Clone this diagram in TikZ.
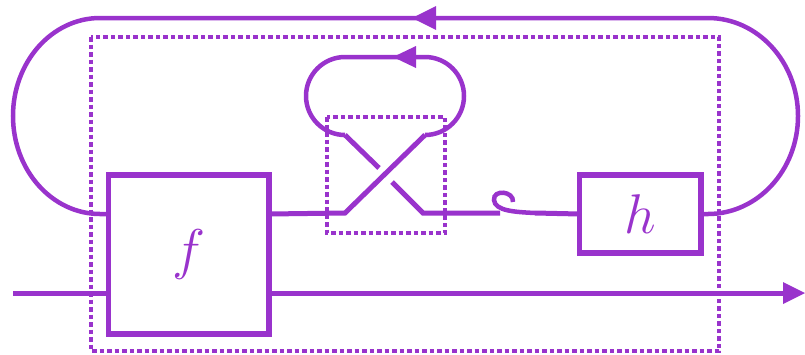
\documentclass[tikz,border=0pt]{standalone}
\usepackage{fix-cm}
\definecolor{pur}{HTML}{9933CC}
\begin{document}
\begin{tikzpicture}[x=1pt,y=-1pt,
  wire/.style={draw=pur,line width=5pt},
  loopw/.style={draw=pur,line width=4.5pt},
  boxn/.style={draw=pur,line width=5.5pt,rectangle,inner sep=0pt,outer sep=0pt,text=pur,font=\fontsize{56}{56}\selectfont},
  dotbox/.style={draw=pur,line width=4.5pt,dash pattern=on 4.5pt off 3pt},
  tip/.style={fill=pur}]
\useasboundingbox (0,0) rectangle (805,354);
% dotted boxes
\draw[dotbox] (91,37) rectangle (719,351);
\draw[dotbox] (327,117) rectangle (445,233);
% boxes
\node[boxn,minimum width=160.5pt,minimum height=159pt] (f) at (188.75,254.5) {$f$};
\node[boxn,minimum width=121.5pt,minimum height=78pt] (h) at (640.25,214) {$h$};
% coordinates
\coordinate (fin) at (f.west |- 0,293);
\coordinate (fout) at (f.east |- 0,293);
\coordinate (ftop) at (f.west |- 0,214);
\coordinate (fr) at (f.east |- 0,214);
\coordinate (hr) at (h.east |- 0,214);
\coordinate (in) at (13,293);
\coordinate (outtip) at (805,293);
\coordinate (L1) at (100,214);
\coordinate (R1) at (708,18);
\coordinate (cA) at (345,213);
\coordinate (cB) at (425,135);
\coordinate (cC) at (345,135);
\coordinate (cD) at (423,213);
\coordinate (cur0) at (500,213);
\coordinate (cur1) at (513,202);
\coordinate (cur2) at (535,213);
% bottom line
\draw[wire] (in) -- (fin);
\draw[wire] (fout) -- (784,293);
\fill[tip] (outtip) -- (783,282) -- (783,304) -- cycle;
% outer loop
\draw[loopw] (ftop) -- (L1) arc[start angle=90,end angle=270,x radius=87,y radius=98] -- (R1)
  arc[start angle=-90,end angle=90,x radius=90,y radius=98] -- (hr);
\fill[tip] (412,18) -- (436,6) -- (436,30) -- cycle;
% crossing
\draw[wire] (fr) -- (cA) -- (cB);
\draw[wire] (cC) -- (379,168);
\draw[wire] (392,182) -- (cD) -- (cur0);
% inner loop
\draw[loopw] (cC) arc[start angle=90,end angle=270,radius=39] -- (425,57)
  arc[start angle=-90,end angle=90,radius=39];
\fill[tip] (393,57) -- (416,46) -- (416,68) -- cycle;
% curl
\draw[loopw] (cur1) .. controls (514,191) and (493,189) .. (494,200)
  .. controls (495,211) and (515,212) .. (cur2);
\draw[wire] (cur2) -- (h.west);
\end{tikzpicture}
\end{document}
